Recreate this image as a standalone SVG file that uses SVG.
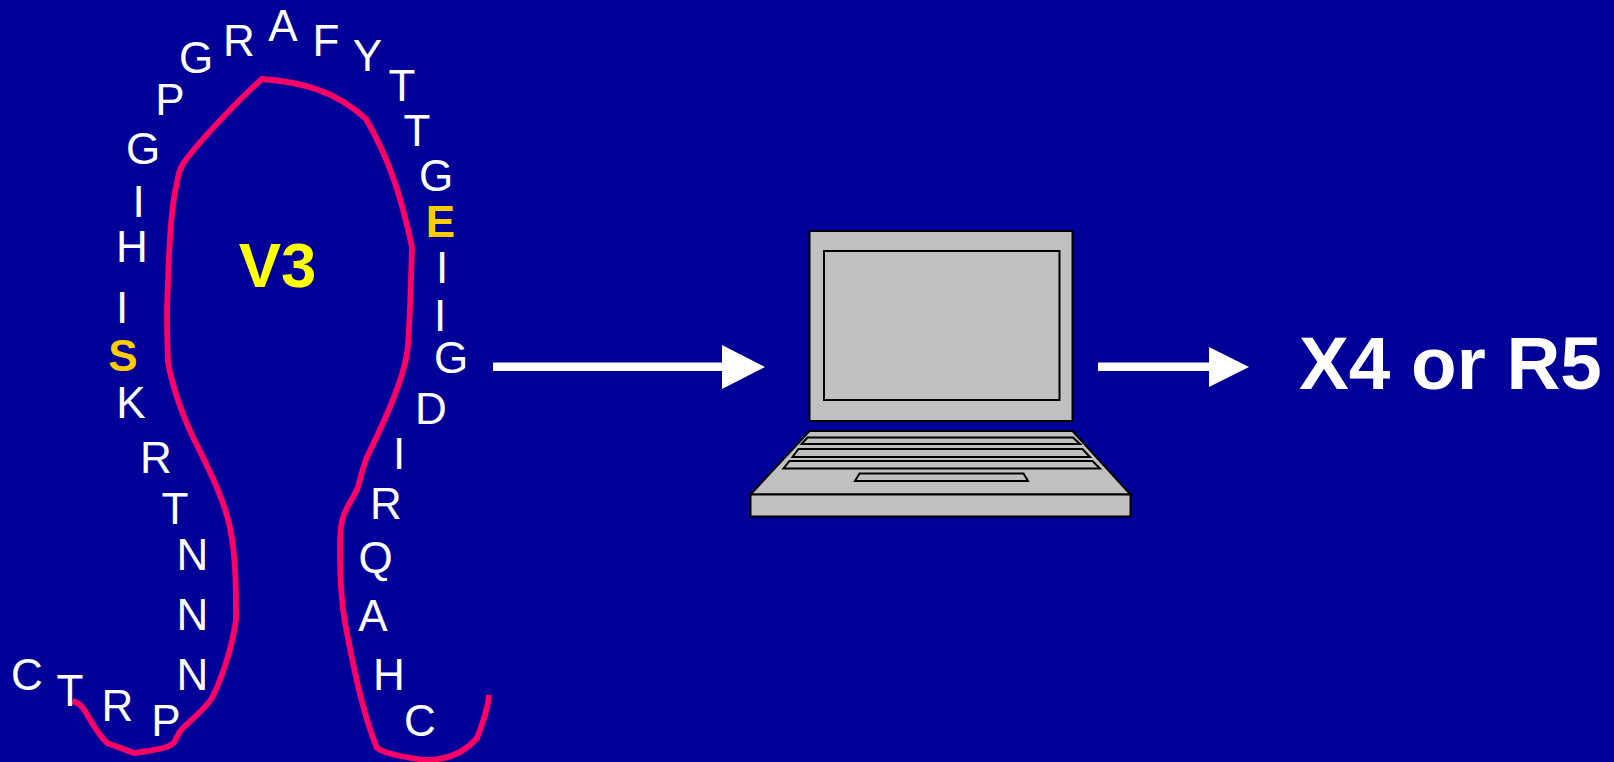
<svg xmlns="http://www.w3.org/2000/svg" width="1614" height="762" viewBox="0 0 1614 762">
<style>
.l{font:44px "Liberation Sans",Arial,sans-serif;fill:#fff;text-anchor:middle}
.o{font-weight:700;fill:#FFCC00}
.k{fill:#C0C0C0;stroke:#000;stroke-width:2;stroke-linejoin:miter}
</style>
<rect width="1614" height="762" fill="#000099"/>
<g id="connectors">
<path id="loop" fill="none" stroke="#FF0066" stroke-width="5.800" stroke-linejoin="round" d="M72.500 701C78 703 80 704 83 708C90 719 97 733 107 743L134 753C145 752 155 750 163 748C170 746 172 745 175 741C177 737 178 733 182 729C192 719 204 710 212 698C222 678 232 648 236 620C236 590 236 555 230 528C224 497 205 462 192 435C180 410 171 380 168 362C167 335 167 300 168 283C169 250 171 205 177 183C178 174 180 169 183 164C193 148 240 98 262 79C300 82 335 90 366 119C390 160 402 200 412 247C411 280 410 320 408 345C406 375 385 420 367 457C362 470 360 480 358 487C354 497 349 503 346 510C340 522 340 535 340 550C340 580 342 610 347 633C353 665 363 715 377 748C385 754 410 758 425 760C447 760 465 752 477 738C482 725 488 710 489 695"/>
<path id="arrow-1" fill="#fff" d="M493 362.500H722V345L765 367L722 389V371H493Z"/>
<path id="arrow-2" fill="#fff" d="M1098 362.500H1209V347L1249 367L1209 387V371H1098Z"/>
</g>
<g id="laptop">
<rect class="k" x="809.500" y="231" width="263" height="190"/>
<rect class="k" x="824" y="251" width="235.500" height="149"/>
<path class="k" d="M809.500 431H1072.500L1130.500 494.500H750.500Z"/>
<rect class="k" x="750.500" y="494.500" width="380" height="22"/>
<path class="k" d="M807.500 437.500H1073L1080 444H801.500Z"/>
<path class="k" d="M798.500 449H1082.500L1090 457H792.500Z"/>
<path class="k" d="M789.500 461H1092.500L1100 468.500H783.500Z"/>
<path class="k" d="M859.500 473.500H1023.500L1028 481H855Z"/>
</g>
<g id="labels">
<text class="l" x="196" y="72.500">G</text>
<text class="l" x="239" y="55.500">R</text>
<text class="l" x="283" y="40.500">A</text>
<text class="l" x="326" y="55.500">F</text>
<text class="l" x="367.500" y="71">Y</text>
<text class="l" x="402" y="101">T</text>
<text class="l" x="417" y="146">T</text>
<text class="l" x="436" y="191">G</text>
<text class="l o" x="440.500" y="237">E</text>
<text class="l" x="442" y="283">I</text>
<text class="l" x="440" y="331">I</text>
<text class="l" x="451" y="372.500">G</text>
<text class="l" x="431" y="423.500">D</text>
<text class="l" x="399" y="469">I</text>
<text class="l" x="386" y="519">R</text>
<text class="l" x="375.500" y="572.500">Q</text>
<text class="l" x="373" y="630.500">A</text>
<text class="l" x="389" y="689.500">H</text>
<text class="l" x="420" y="736">C</text>
<text class="l" x="170" y="115">P</text>
<text class="l" x="143" y="163.500">G</text>
<text class="l" x="138.500" y="217">I</text>
<text class="l" x="132" y="262">H</text>
<text class="l" x="122" y="323">I</text>
<text class="l o" x="123" y="371">S</text>
<text class="l" x="131" y="418">K</text>
<text class="l" x="156" y="473">R</text>
<text class="l" x="175" y="523.500">T</text>
<text class="l" x="192.500" y="569.500">N</text>
<text class="l" x="192.500" y="630">N</text>
<text class="l" x="192.500" y="690">N</text>
<text class="l" x="27" y="690">C</text>
<text class="l" x="70" y="706">T</text>
<text class="l" x="117.500" y="721">R</text>
<text class="l" x="166" y="736">P</text>
<text x="277.500" y="287" font-family="Liberation Sans, Arial, sans-serif" font-size="63.500" font-weight="700" fill="#FFFF00" text-anchor="middle">V3</text>
<text x="1299" y="389" font-family="Liberation Sans, Arial, sans-serif" font-size="74.670" font-weight="700" fill="#fff">X4 or R5</text>
</g>
</svg>
